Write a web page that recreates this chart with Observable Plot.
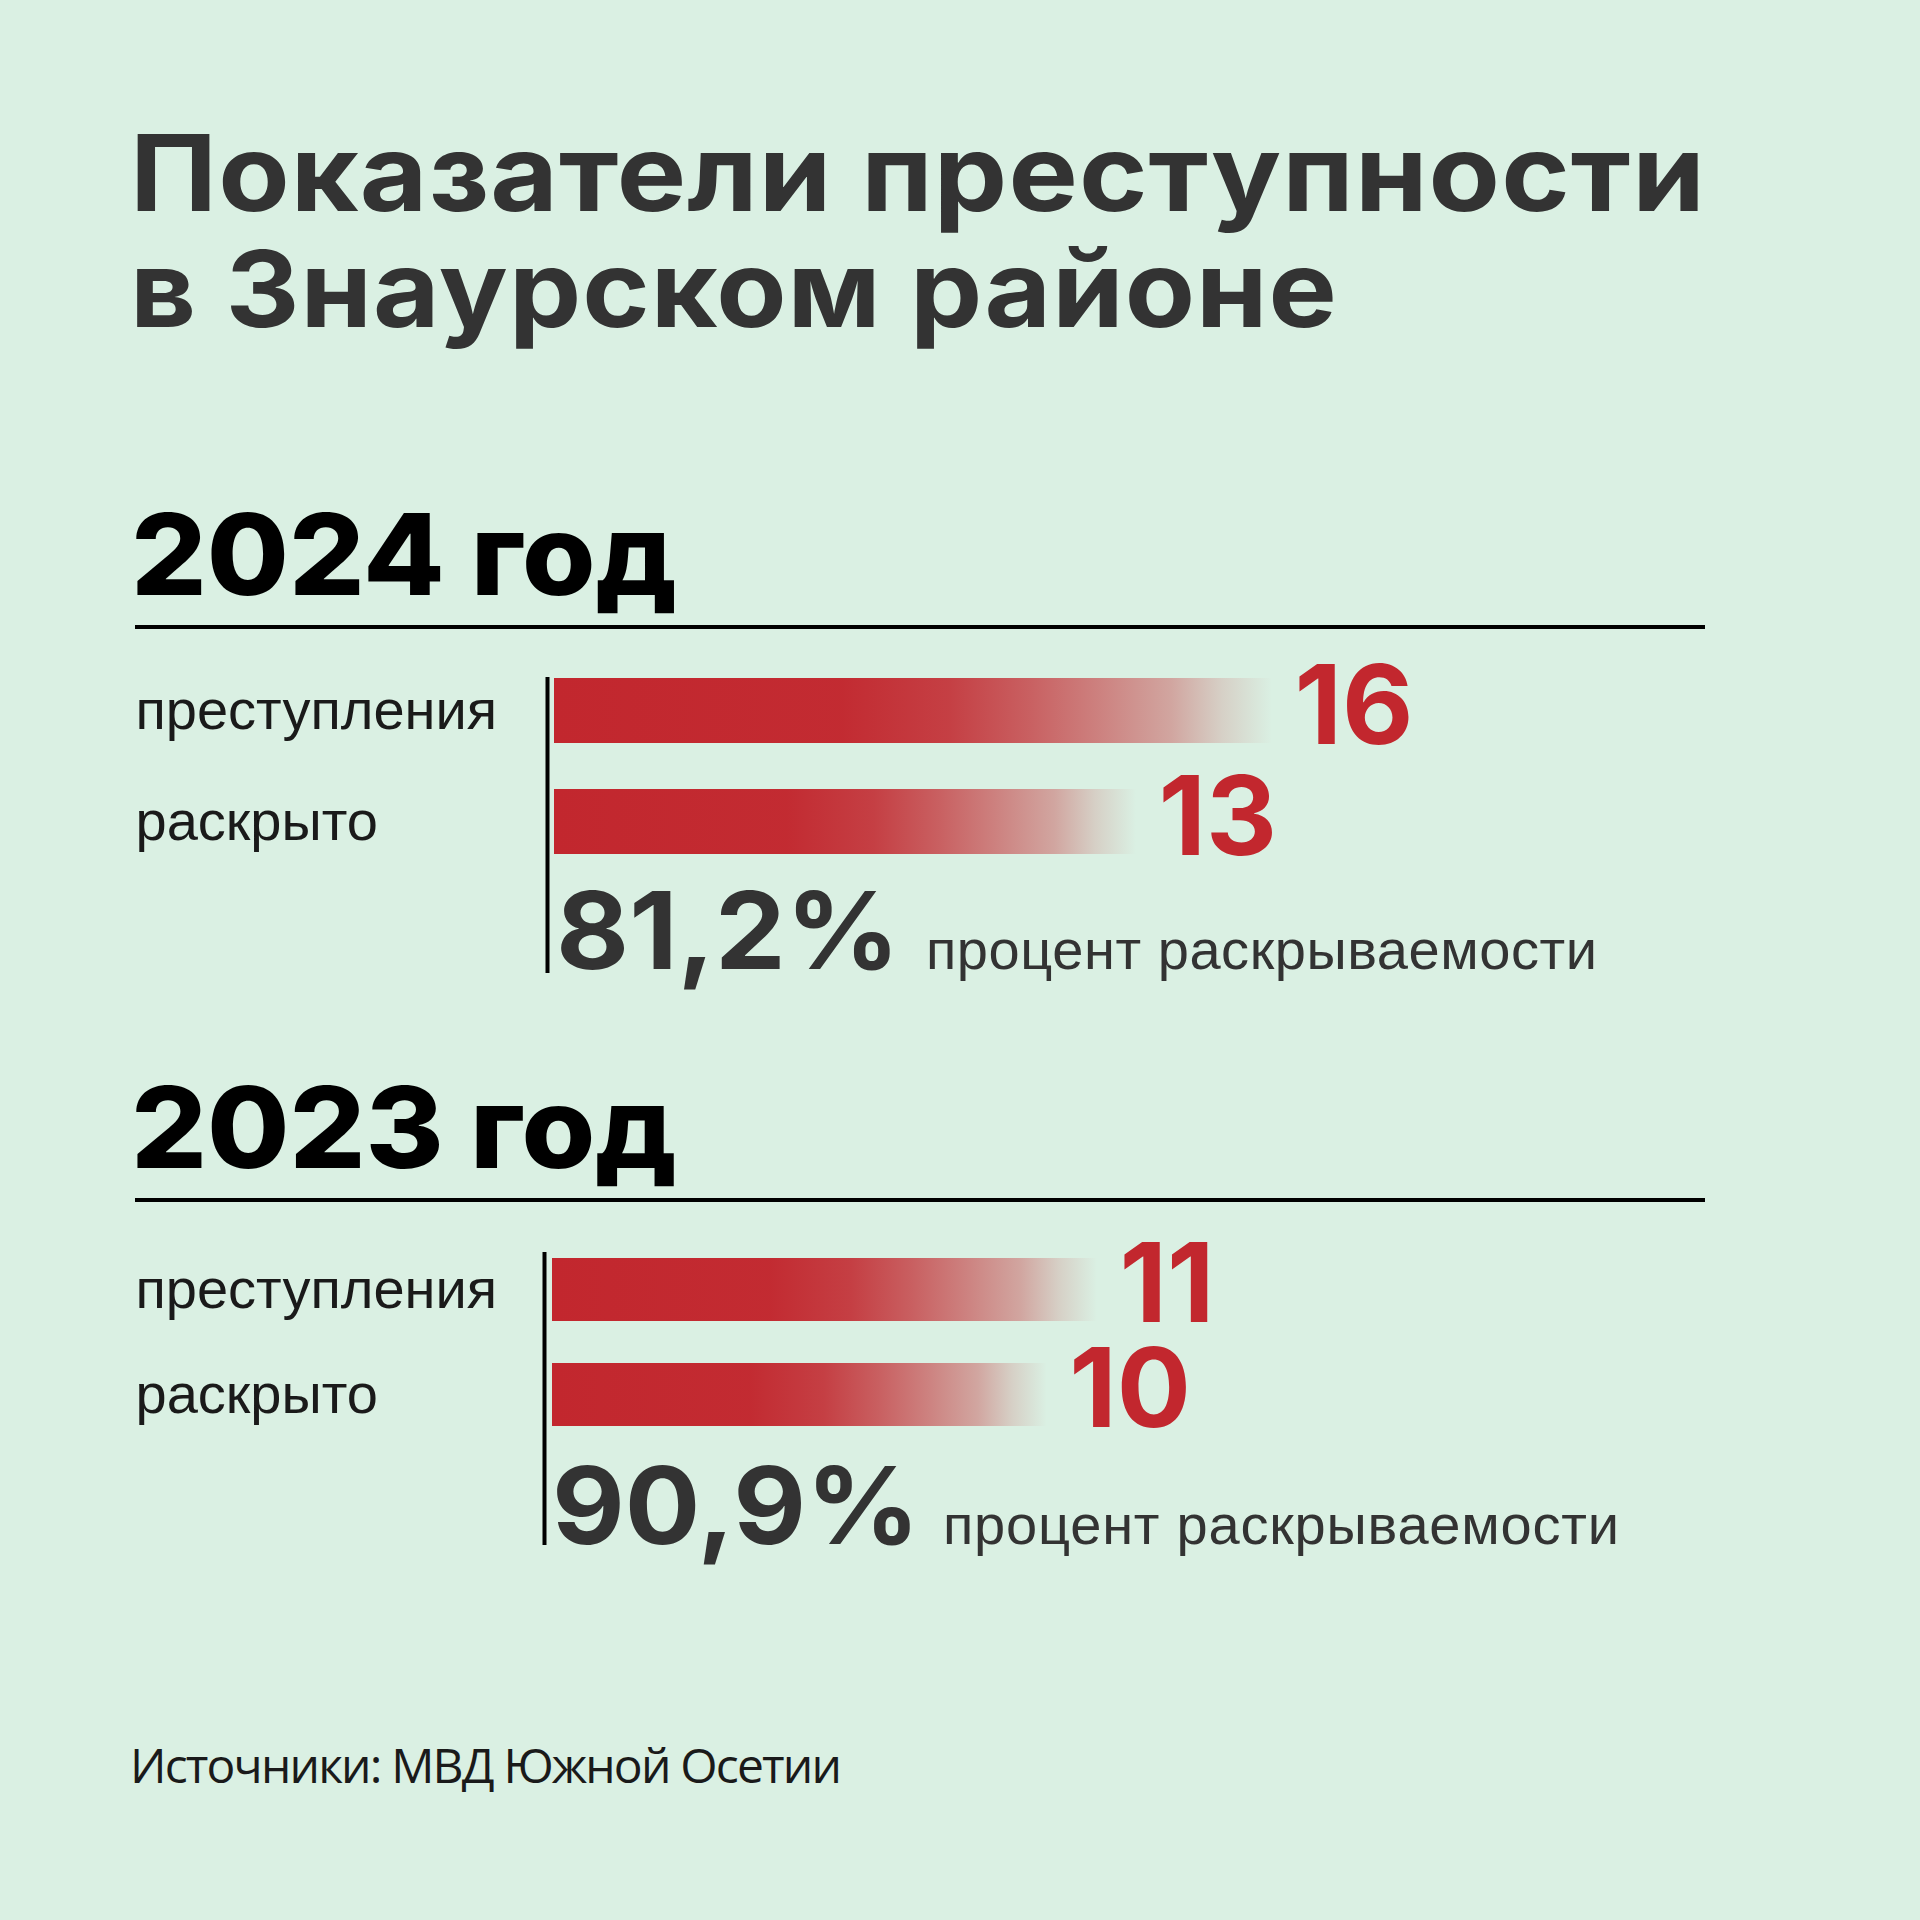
<!DOCTYPE html>
<html>
<head>
<meta charset="utf-8">
<script src="https://cdn.jsdelivr.net/npm/d3@7"></script>
<script src="https://cdn.jsdelivr.net/npm/@observablehq/plot@0.6"></script>
<style>
  html, body { margin: 0; padding: 0; background: #daf0e3; }
  #chart { position: relative; width: 1920px; height: 1920px; background: #daf0e3; overflow: hidden; }
  .t { position: absolute; white-space: nowrap; line-height: 1; transform-origin: 0 0; }
  .title { font-family: Inter, sans-serif; font-weight: 700; font-size: 106px; color: #333; letter-spacing: 1px; }
  .year { font-family: Inter, sans-serif; font-weight: 800; font-size: 113px; color: #000; }
  .rate { font-family: Inter, sans-serif; font-weight: 700; font-size: 107px; color: #333; }
  .rateLabel { font-family: "Liberation Sans", Arial, sans-serif; font-size: 56px; color: #333; }
  .source { font-family: "Open Sans", sans-serif; font-size: 48px; color: #1a1a1a; }
  .rule { position: absolute; height: 4px; background: #000; }
  .plot { position: absolute; left: 0; }
</style>
</head>
<body>
<div id="chart"></div>
<script>
// ---- data ----
const titleLines = ["Показатели преступности", "в Знаурском районе"];
const years = ["2024 год", "2023 год"];
const categories = ["преступления", "раскрыто"];
const crimes = [16, 11];
const solved = [13, 10];
const rates = ["81,2%", "90,9%"];
const rateLabel = "процент раскрываемости";
const source = "Источники: МВД Южной Осетии";

// ---- style / layout ----
const RED = "#c2272e";
const chart = document.getElementById("chart");

// mode: "space" = fit by letter-spacing, "scale" = fit by horizontal scaling
function addText(cls, text, left, baseline, target, mode) {
  const el = document.createElement("div");
  el.className = "t " + cls;
  const m = document.createElement("span");
  m.style.cssText = "display:inline-block;width:0;height:0;vertical-align:baseline";
  el.appendChild(m);
  el.appendChild(document.createTextNode(text));
  el.style.left = left + "px";
  el.style.top = "0px";
  chart.appendChild(el);
  if (target) {
    const w = el.getBoundingClientRect().width;
    if (mode === "scale") {
      el.style.transform = `scaleX(${target / w})`;
    } else {
      const n = [...text].length;
      el.style.letterSpacing = ((target - w) / Math.max(1, n - 1)) + "px";
    }
  }
  const cb = chart.getBoundingClientRect();
  const b = m.getBoundingClientRect().top - cb.top;
  el.style.top = (baseline - b) + "px";
  return el;
}
function addRule(left, top, width) {
  const d = document.createElement("div");
  d.className = "rule";
  d.style.left = left + "px"; d.style.top = top + "px"; d.style.width = width + "px";
  chart.appendChild(d);
}

// title
addText("title", titleLines[0], 130, 211, 1576, "scale");
addText("title", titleLines[1], 130, 327, 1208, "scale");

const layout = [
  {headBase: 595, ruleTop: 625, plotTop: 640, marginTop: 37, marginBottom: 7,
   yRange: [38, 214.5], pad: 0.417, xRange: [547, 1272], inset: 7,
   rateLeft: 556, rateBase: 969, rateW: 344, labLeft: 926, labW: 671},
  {headBase: 1168, ruleTop: 1198, plotTop: 1215, marginTop: 37, marginBottom: 10,
   yRange: [43, 212], pad: 0.398, xRange: [544, 1097], inset: 8,
   rateLeft: 552, rateBase: 1544, rateW: 368, labLeft: 943, labW: 676}
];

years.forEach((year, i) => {
  const L = layout[i];
  addText("year", year, 131, L.headBase, 546, "scale");
  addRule(135, L.ruleTop, 1570);

  const rows = categories.map((c, j) => ({cat: c, value: j === 0 ? crimes[i] : solved[i]}));
  const step = (L.yRange[1] - L.yRange[0]) / (categories.length - L.pad);
  const bw = step * (1 - L.pad);
  const gid = "fade" + i;

  const svg = Plot.plot({
    width: 1920,
    height: 340,
    marginTop: L.marginTop,
    marginBottom: L.marginBottom,
    marginLeft: L.xRange[0],
    marginRight: 0,
    style: {background: "transparent", overflow: "visible"},
    x: {domain: [0, crimes[i]], range: L.xRange, axis: null},
    y: {domain: categories, range: L.yRange, paddingInner: L.pad, paddingOuter: 0},
    marks: [
      Plot.barX(rows, {x: "value", y: "cat", fill: `url(#${gid})`, insetLeft: L.inset}),
      Plot.ruleX([0], {stroke: "#000", strokeWidth: 4}),
      Plot.axisY({tickSize: 0, tickPadding: L.xRange[0] - 135, textAnchor: "start",
        fontSize: 56, fontFamily: "Liberation Sans, Arial, sans-serif", fill: "#1a1a1a", label: null}),
      Plot.text(rows, {x: "value", y: "cat", text: d => String(d.value), textAnchor: "start",
        lineAnchor: "bottom", dx: 22, dy: bw / 2, fill: RED, fontSize: 110, fontWeight: 700,
        fontFamily: "Inter, sans-serif", letterSpacing: 3})
    ]
  });
  svg.querySelectorAll("text").forEach(t => {
    if (t.closest("g") && t.getAttribute("fill") === RED) t.style.letterSpacing = "4px";
  });
  const defs = d3.select(svg).insert("defs", ":first-child");
  const g = defs.append("linearGradient").attr("id", gid).attr("x1", 0).attr("x2", 1).attr("y1", 0).attr("y2", 0);
  [[0, 1], [0.4, 0.98], [0.55, 0.88], [0.66, 0.72], [0.76, 0.55], [0.86, 0.37], [0.93, 0.16], [1, 0]]
    .forEach(([o, a]) => g.append("stop").attr("offset", o).attr("stop-color", RED).attr("stop-opacity", a));
  svg.classList.add("plot");
  svg.style.top = L.plotTop + "px";
  chart.appendChild(svg);

  addText("rate", rates[i], L.rateLeft, L.rateBase, L.rateW, "scale");
  addText("rateLabel", rateLabel, L.labLeft, L.rateBase, L.labW);
});

addText("source", source, 130, 1783, 712);
</script>
</body>
</html>
